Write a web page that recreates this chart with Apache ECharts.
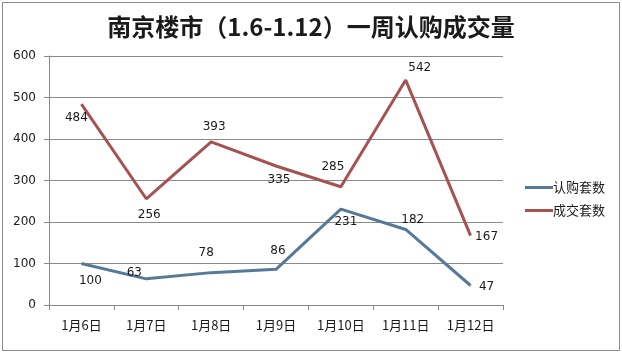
<!DOCTYPE html>
<html><head><meta charset="utf-8">
<script src="https://cdn.jsdelivr.net/npm/echarts@6/dist/echarts.min.js"></script>
<style>html,body{margin:0;padding:0;background:#fff}#c{width:622px;height:354px}</style>
</head><body><div id="c"></div>
<script>
const categories = ['1月6日','1月7日','1月8日','1月9日','1月10日','1月11日','1月12日'];
const subscribed = [100, 63, 78, 86, 231, 182, 47];   // 认购套数
const closed = [484, 256, 393, 335, 285, 542, 167];   // 成交套数
const yTicks = [0, 100, 200, 300, 400, 500, 600];

// label offsets (style only)
const subOffsets = [[9,17],[-12,-6],[-5,-20],[2,-18],[5,13],[7,-10],[16,1]];
const closedOffsets = [[-5,14],[3,16],[3,-15],[3,14],[-8,-20],[14,-12],[16,1]];

const txt = '#1a1a1a';
function mk(vals, offs){
  return vals.map((v,i)=>({value:v, label:{position:'inside', offset:offs[i]}}));
}
const chart = echarts.init(document.getElementById('c'));
chart.setOption({
  backgroundColor:'#fff',
  animation:false,
  title:{text:'南京楼市（1.6-1.12）一周认购成交量', left:'center', top:10,
    textStyle:{fontSize:24, fontWeight:'bold', color:'#1a1a1a', fontFamily:'Noto Sans CJK SC'}},
  graphic:[{type:'rect', shape:{x:2.5,y:2.5,width:617,height:348}, style:{fill:null, stroke:'#8c8c8c', lineWidth:1}}],
  legend:{orient:'vertical', left:520, top:176, itemWidth:28, itemHeight:3, itemGap:10,
    icon:'rect',
    textStyle:{fontSize:13, color:txt, fontFamily:'Noto Sans CJK SC', padding:[0,0,0,-5]},
    data:['认购套数','成交套数']},
  grid:{left:49, right:119, top:56, bottom:49},
  xAxis:{type:'category', data:categories, boundaryGap:true,
    axisLine:{lineStyle:{color:'#888', width:1}},
    axisTick:{show:true, length:5, lineStyle:{color:'#888'}},
    axisLabel:{fontSize:13, color:txt, margin:14, fontFamily:'Noto Sans CJK SC'}},
  yAxis:{type:'value', min:yTicks[0], max:yTicks[yTicks.length-1], interval:100,
    axisLine:{show:true, lineStyle:{color:'#888'}},
    axisTick:{show:true, length:5, lineStyle:{color:'#888'}},
    splitLine:{lineStyle:{color:'#8a8a8a', width:1}},
    axisLabel:{fontSize:12, color:txt, margin:13, fontFamily:'DejaVu Sans'}},
  series:[
    {name:'认购套数', type:'line', data:mk(subscribed, subOffsets), symbol:'circle', symbolSize:0.1,
      lineStyle:{color:'#56799a', width:3}, itemStyle:{color:'#56799a'},
      label:{show:true, color:txt, fontSize:12, fontFamily:'DejaVu Sans'}},
    {name:'成交套数', type:'line', data:mk(closed, closedOffsets), symbol:'circle', symbolSize:0.1,
      lineStyle:{color:'#a65253', width:3}, itemStyle:{color:'#a65253'},
      label:{show:true, color:txt, fontSize:12, fontFamily:'DejaVu Sans'}}
  ]
});
</script></body></html>
